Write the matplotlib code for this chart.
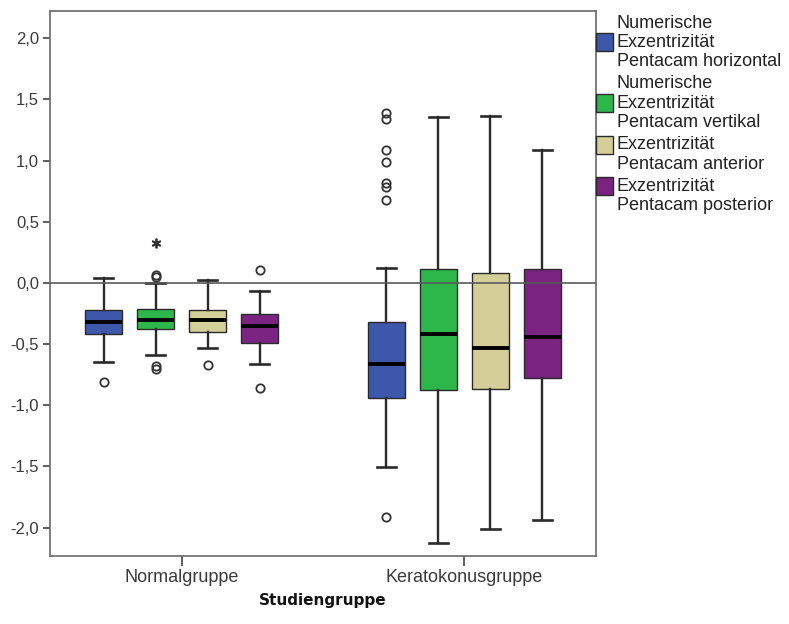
import matplotlib
matplotlib.use("Agg")
import matplotlib.pyplot as plt
from matplotlib.patches import Rectangle
from matplotlib.ticker import FuncFormatter

plt.rcParams["font.family"] = ["Liberation Sans", "DejaVu Sans"]

groups = ["Normalgruppe", "Keratokonusgruppe"]
series_labels = [
    ["Numerische", "Exzentrizität", "Pentacam horizontal"],
    ["Numerische", "Exzentrizität", "Pentacam vertikal"],
    ["Exzentrizität", "Pentacam anterior"],
    ["Exzentrizität", "Pentacam posterior"],
]
colors = ["#3d58ab", "#2db74a", "#d4cf98", "#7b2381"]

# box statistics per group, series order: horizontal, vertikal, anterior, posterior
normal_whislo = [-0.65, -0.59, -0.535, -0.66]
normal_q1 = [-0.42, -0.38, -0.405, -0.49]
normal_med = [-0.32, -0.30, -0.305, -0.35]
normal_q3 = [-0.22, -0.215, -0.225, -0.253]
normal_whishi = [0.04, 0.00, 0.025, -0.065]
normal_outliers = [[-0.81], [0.065, 0.047, -0.68, -0.70], [-0.675], [0.106, -0.855]]
normal_extremes = [[], [0.33], [], []]

kerato_whislo = [-1.506, -2.127, -2.015, -1.936]
kerato_q1 = [-0.937, -0.874, -0.866, -0.774]
kerato_med = [-0.662, -0.42, -0.534, -0.444]
kerato_q3 = [-0.316, 0.114, 0.079, 0.114]
kerato_whishi = [0.125, 1.359, 1.367, 1.087]
kerato_outliers = [[1.386, 1.337, 1.087, 0.991, 0.815, 0.787, 0.678, -1.914], [], [], []]
kerato_extremes = [[], [], [], []]

y_ticks = [-2.0, -1.5, -1.0, -0.5, 0.0, 0.5, 1.0, 1.5, 2.0]

W, H = 789, 624
fig = plt.figure(figsize=(W / 100, H / 100), dpi=100)
ax = fig.add_axes([50 / W, 1 - 555.5 / H, 545.5 / W, 544.5 / H])

offsets = [-0.276, -0.092, 0.092, 0.276]
box_w = 0.13
cap_w = 0.066

group_data = [
    (normal_whislo, normal_q1, normal_med, normal_q3, normal_whishi, normal_outliers, normal_extremes),
    (kerato_whislo, kerato_q1, kerato_med, kerato_q3, kerato_whishi, kerato_outliers, kerato_extremes),
]

ink = "#2a2a2a"
for gi, (wlo, q1, med, q3, whi, outl, extr) in enumerate(group_data):
    for si in range(4):
        pos = gi + 1 + offsets[si]
        stats = [dict(whislo=wlo[si], q1=q1[si], med=med[si], q3=q3[si],
                      whishi=whi[si], fliers=outl[si])]
        ax.bxp(stats, positions=[pos], widths=box_w, capwidths=cap_w,
               patch_artist=True, manage_ticks=False,
               boxprops=dict(facecolor=colors[si], edgecolor=ink, linewidth=1.0),
               medianprops=dict(color="black", linewidth=2.8),
               whiskerprops=dict(color=ink, linewidth=1.7),
               capprops=dict(color=ink, linewidth=1.9),
               flierprops=dict(marker="o", markerfacecolor="none",
                               markeredgecolor="#333333", markersize=6,
                               markeredgewidth=1.3))
        if extr[si]:
            ax.plot([pos] * len(extr[si]), extr[si], linestyle="none",
                    marker=(6, 2, 0), markersize=7, markeredgewidth=1.3,
                    color="#333333", zorder=4)

# reference line at zero, drawn over the boxes
ax.axhline(0.0, color="#5a5a5a", linewidth=1.2, zorder=6)

ax.set_xlim(0.534, 2.464)
ax.set_ylim(-2.228, 2.222)
ax.set_xticks([1, 2])
ax.set_xticklabels(groups)
ax.set_yticks(y_ticks)
ax.yaxis.set_major_formatter(FuncFormatter(lambda v, _: f"{v:.1f}".replace(".", ",")))

for sp in ax.spines.values():
    sp.set_color("#6a6a6a")
    sp.set_linewidth(1.2)
ax.tick_params(axis="y", direction="out", length=5, width=1.2, color="#444444",
               labelsize=12, labelcolor="#3a3a3a", pad=3)
ax.tick_params(axis="x", direction="out", length=7, width=1.2, color="#444444",
               labelsize=13, labelcolor="#3a3a3a", pad=3)

ax.set_xlabel("Studiengruppe", family="DejaVu Sans", fontweight="bold",
              fontsize=11, color="#111111", va="center")
ax.xaxis.set_label_coords(0.5, -0.082)


def fx(px):
    return px / W


def fy(py):
    return 1 - py / H


# legend outside the axes, patches against the right spine
pitch = 19.3
gap = 3.0
line_y = 23.0
for si, lines in enumerate(series_labels):
    patch_line = (len(lines) - 1) // 2
    cy = line_y + patch_line * pitch
    fig.add_artist(Rectangle((fx(596), fy(cy + 9)), 16.5 / W, 18 / H,
                             transform=fig.transFigure, facecolor=colors[si],
                             edgecolor=ink, linewidth=1.0))
    for li, txt in enumerate(lines):
        fig.text(fx(617), fy(line_y + li * pitch), txt, fontsize=13,
                 color="#222222", va="center", ha="left")
    line_y += len(lines) * pitch + gap

fig.savefig("out.png", dpi=100)
